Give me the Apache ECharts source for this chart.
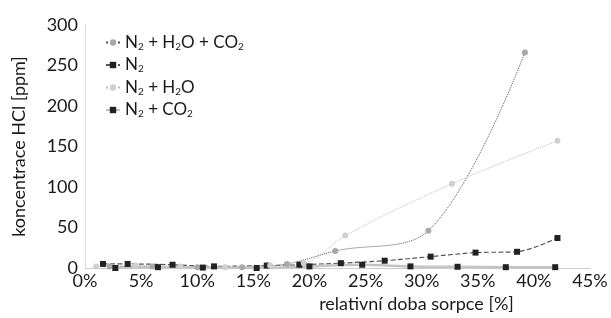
<!DOCTYPE html>
<html>
<head>
<meta charset="utf-8">
<script src="https://cdn.jsdelivr.net/npm/echarts@6/dist/echarts.min.js"></script>
<style>
  html, body { margin: 0; padding: 0; background: #fff; }
  #chart { width: 611px; height: 318px; }
</style>
</head>
<body>
<div id="chart"></div>
<script>
// data: [relative sorption time %, HCl ppm]
var seriesNames = ['N2 + H2O + CO2', 'N2', 'N2 + H2O', 'N2 + CO2'];
var legendLabels = ['N{s|2} + H{s|2}O + CO{s|2}', 'N{s|2}', 'N{s|2} + H{s|2}O', 'N{s|2} + CO{s|2}'];
var xTicks = [0, 5, 10, 15, 20, 25, 30, 35, 40, 45];
var yTicks = [0, 50, 100, 150, 200, 250, 300];

var dataN2H2OCO2 = [[2.2, 2], [6, 2], [10, 1], [14, 1], [18, 5], [22.3, 21], [30.6, 46], [39.2, 266]];
var dataN2 = [[1.6, 5], [3.8, 5], [7.8, 4], [11.5, 2], [16.2, 3], [19.1, 4], [22.8, 6], [26.7, 9], [30.8, 14], [34.8, 19], [38.5, 20], [42.1, 37]];
var dataN2H2O = [[1, 2], [4.5, 3], [8.5, 2], [12.5, 1], [16.5, 3], [19.5, 6], [23.2, 40], [32.7, 104], [42.1, 157]];
var dataN2CO2 = [[2.7, 0], [6.5, 1], [10.5, 0.5], [15.3, 0], [20, 2], [24.7, 4], [29, 2], [33.2, 1.5], [37.5, 1], [41.9, 1]];

var font = 'Lato';
var chart = echarts.init(document.getElementById('chart'));

var option = {
    animation: false,
    textStyle: { fontFamily: font },
    grid: { left: 85, right: 21, top: 25, bottom: 48 },
    legend: {
        orient: 'vertical',
        left: 100,
        top: 29,
        itemGap: 5,
        itemWidth: 14,
        itemHeight: 8,
        data: seriesNames,
        formatter: function (name) {
            return legendLabels[seriesNames.indexOf(name)];
        },
        textStyle: {
            fontFamily: font,
            fontSize: 17,
            color: '#1a1a1a',
            rich: {
                s: { fontSize: 10, verticalAlign: 'bottom', padding: [8, 0, 0, 0], color: '#1a1a1a', fontFamily: font }
            }
        }
    },
    xAxis: {
        type: 'value',
        min: xTicks[0],
        max: xTicks[xTicks.length - 1],
        interval: 5,
        name: 'relativní doba sorpce [%]',
        nameLocation: 'middle',
        nameGap: 27,
        nameTextStyle: { fontSize: 18, color: '#1a1a1a', padding: [0, 0, 0, 158] },
        axisLine: { lineStyle: { color: '#ccc' } },
        axisTick: { show: false },
        splitLine: { show: false },
        axisLabel: { formatter: '{value}%', fontSize: 18, color: '#1a1a1a', margin: 4 }
    },
    yAxis: {
        type: 'value',
        min: yTicks[0],
        max: yTicks[yTicks.length - 1],
        interval: 50,
        name: 'koncentrace HCl [ppm]',
        nameLocation: 'middle',
        nameGap: 57,
        nameTextStyle: { fontSize: 18, color: '#1a1a1a' },
        axisLine: { show: true, lineStyle: { color: '#ddd' } },
        axisTick: { show: false },
        splitLine: { show: false },
        axisLabel: { fontSize: 18, color: '#1a1a1a', margin: 7 }
    },
    series: [
        {
            name: seriesNames[0],
            type: 'line',
            smooth: 0.35,
            data: dataN2H2OCO2,
            symbol: 'circle',
            symbolSize: 6,
            itemStyle: { color: '#a8a8a8' },
            lineStyle: { color: '#555', width: 1, type: 'dotted' }
        },
        {
            name: seriesNames[1],
            type: 'line',
            smooth: 0.3,
            data: dataN2,
            symbol: 'rect',
            symbolSize: 6,
            itemStyle: { color: '#222' },
            lineStyle: { color: '#555', width: 1.2, type: 'dashed' }
        },
        {
            name: seriesNames[2],
            type: 'line',
            smooth: 0.4,
            data: dataN2H2O,
            symbol: 'circle',
            symbolSize: 6,
            itemStyle: { color: '#cfcfcf' },
            lineStyle: { color: '#bbb', width: 1, type: 'dotted' }
        },
        {
            name: seriesNames[3],
            type: 'line',
            smooth: 0.3,
            data: dataN2CO2,
            symbol: 'rect',
            symbolSize: 6,
            itemStyle: { color: '#222' },
            lineStyle: { color: '#c4c4c4', width: 2.5 }
        }
    ]
};
chart.setOption(option);
</script>
</body>
</html>
